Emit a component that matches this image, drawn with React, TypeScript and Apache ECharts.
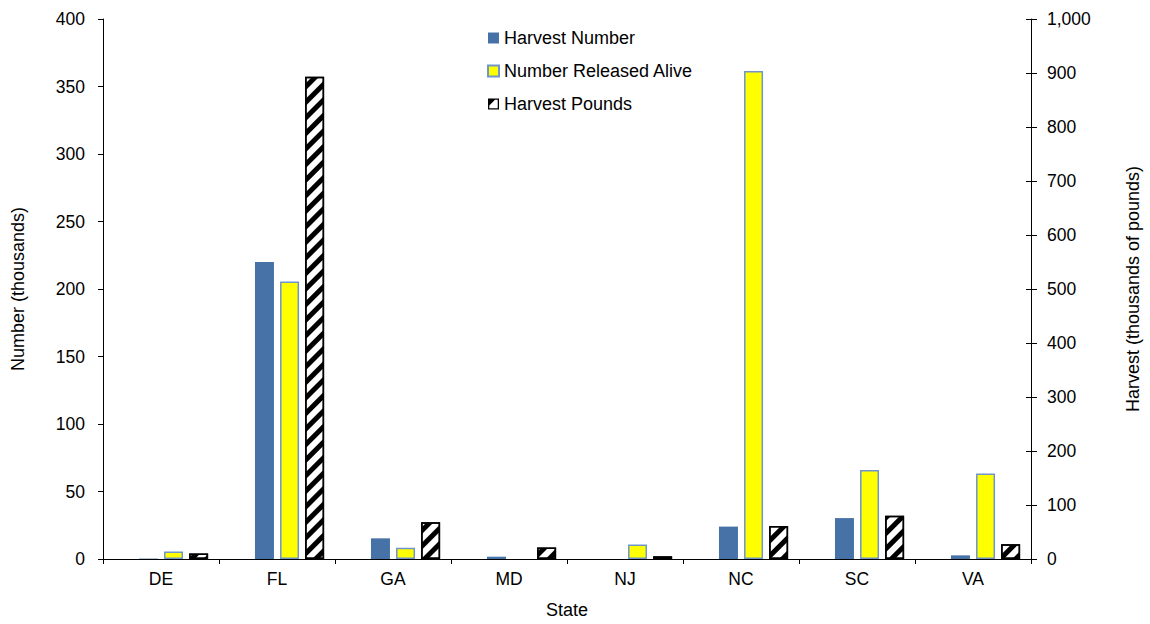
import React, { useEffect, useRef } from "react";
import * as echarts from "echarts";

const states = ["DE", "FL", "GA", "MD", "NJ", "NC", "SC", "VA"];
const harvestNumber = [0.3, 220, 15.3, 1.7, null, 24, 30.3, 2.7];
const releasedAlive = [5.5, 205.5, 8.4, null, 10.8, 361.5, 66, 63.3];
const harvestPounds = [10, 893, 68, 21.5, 5, 61, 80, 27.5];
const emptySlot = [null, null, null, null, null, null, null, null];

const FONT = "'Liberation Sans', Arial, sans-serif";

export default function App() {
  const ref = useRef<HTMLDivElement>(null);
  useEffect(() => {
    if (!ref.current) return;
    const chart = echarts.init(ref.current, undefined, { renderer: "svg" });
    const axisLine = { show: true, lineStyle: { color: "#000", width: 1 } };
    const tick = { show: true, length: 5, lineStyle: { color: "#000" } };
    chart.setOption({
      animation: false,
      textStyle: { fontFamily: FONT, color: "#000" },
      grid: { left: 103, right: 116, top: 19, bottom: 63, containLabel: false },
      legend: {
        orient: "vertical",
        left: 482,
        top: 24,
        itemWidth: 11,
        itemHeight: 11,
        itemGap: 15,
        textStyle: { fontFamily: FONT, fontSize: 18, color: "#000" },
        data: [
          { name: "Harvest Number", icon: "rect" },
          { name: "Number Released Alive", icon: "rect" },
          {
            name: "Harvest Pounds",
            icon: "path://M0,0 H11 V11 H0 Z M1.3,1.3 V9.7 H9.7 V1.3 Z M1.3,1.3 H7 L1.3,7 Z",
            itemStyle: {
              color: "#000",
              borderWidth: 0,
              decal: { color: "rgba(0,0,0,0)", dashArrayX: [1, 0], dashArrayY: [1, 0] },
            },
          },
        ],
      },
      xAxis: {
        type: "category",
        data: states,
        name: "State",
        nameLocation: "middle",
        nameGap: 42,
        nameTextStyle: { fontSize: 18, color: "#000", fontFamily: FONT },
        axisLine,
        axisTick: tick,
        axisLabel: { fontSize: 17.5, color: "#000", margin: 11, fontFamily: FONT },
      },
      yAxis: [
        {
          type: "value",
          min: 0,
          max: 400,
          interval: 50,
          name: "Number (thousands)",
          nameLocation: "middle",
          nameGap: 76,
          nameTextStyle: { fontSize: 18, color: "#000", fontFamily: FONT },
          axisLine,
          axisTick: tick,
          axisLabel: { fontSize: 17.5, color: "#000", margin: 18, fontFamily: FONT },
          splitLine: { show: false },
        },
        {
          type: "value",
          min: 0,
          max: 1000,
          interval: 100,
          position: "right",
          name: "Harvest (thousands of pounds)",
          nameLocation: "middle",
          nameGap: 93,
          nameTextStyle: { fontSize: 18, color: "#000", fontFamily: FONT },
          axisLine,
          axisTick: { ...tick, length: 6 },
          axisLabel: {
            fontSize: 17.5,
            color: "#000",
            margin: 16,
            fontFamily: FONT,
            formatter: (v: number) => v.toLocaleString("en-US"),
          },
          splitLine: { show: false },
        },
        {
          type: "value",
          min: 0,
          max: 1000,
          interval: 100,
          position: "right",
          axisLine: { show: false },
          axisTick: { show: true, inside: true, length: 5, lineStyle: { color: "#000" } },
          axisLabel: { show: false },
          splitLine: { show: false },
        },
      ],
      series: [
        {
          name: "_empty",
          type: "bar",
          yAxisIndex: 0,
          data: emptySlot,
          barWidth: 19,
          barGap: "32%",
        },
        {
          name: "Harvest Number",
          type: "bar",
          yAxisIndex: 0,
          data: harvestNumber,
          barWidth: 19,
          barGap: "32%",
          itemStyle: { color: "#4672a8" },
        },
        {
          name: "Number Released Alive",
          type: "bar",
          yAxisIndex: 0,
          data: releasedAlive,
          barWidth: 19,
          barGap: "32%",
          itemStyle: { color: "#ffff00", borderColor: "#6f95cc", borderWidth: 1.5 },
        },
        {
          name: "Harvest Pounds",
          type: "bar",
          yAxisIndex: 1,
          data: harvestPounds,
          barWidth: 19,
          barGap: "32%",
          itemStyle: {
            color: "#ffffff",
            borderColor: "#000",
            borderWidth: 1.5,
            decal: {
              symbol: "rect",
              color: "#000",
              dashArrayX: [1, 0],
              dashArrayY: [5, 6],
              rotation: -Math.PI / 4,
              symbolSize: 1,
            },
          },
        },
      ],
    });
    return () => chart.dispose();
  }, []);
  return <div ref={ref} style={{ width: 1150, height: 624, position: "absolute", left: 0, top: 0 }} />;
}
